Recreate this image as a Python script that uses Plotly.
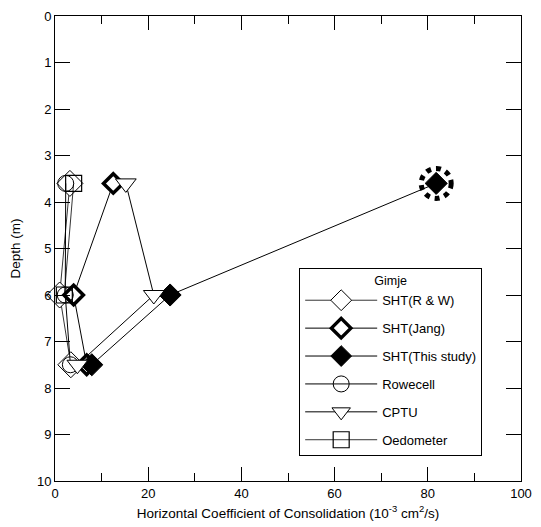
import plotly.graph_objects as go

depth = [3.6, 6.0, 7.5]
sht_rw = [3.2, 1.0, 3.4]
sht_jang = [12.5, 4.0, 6.8]
sht_this = [81.8, 24.7, 7.9]
rowecell = [2.3, 2.2, 3.3]
cptu = [15.2, 21.2, 4.8]
oedo_depth = [3.6, 6.0]
oedometer = [4.0, 2.0]

x_ticks = [0, 20, 40, 60, 80, 100]
y_ticks = list(range(0, 11))

FONT = "Liberation Sans, Arial, sans-serif"

fig = go.Figure()

def add(name, x, y, symbol, size, fill, lw, mlw, group):
    fig.add_trace(go.Scatter(
        x=x, y=y, name=name, mode="lines+markers",
        line=dict(color="black", width=lw),
        marker=dict(symbol=symbol, size=size, color=fill,
                    line=dict(color="black", width=mlw)),
        legendgroup=group, cliponaxis=False,
    ))

add("SHT(R & W)", sht_rw, depth, "diamond", 20, "white", 0.8, 1, "a")
add("SHT(Jang)", sht_jang, depth, "diamond", 15, "white", 1, 3.5, "b")
add("SHT(This study)", sht_this, depth, "diamond", 17, "black", 1, 1, "c")
add("Rowecell", rowecell, depth, "circle", 16, "rgba(255,255,255,0)", 1, 1, "d")
add("CPTU", cptu, depth, "triangle-down", 18, "white", 1, 1, "e")
add("Oedometer", oedometer, oedo_depth, "square", 16, "rgba(255,255,255,0)", 0.8, 1.2, "f")

# dotted highlight ring around the first "This study" point
fig.add_shape(type="circle", xref="x", yref="y",
              xsizemode="pixel", ysizemode="pixel",
              xanchor=sht_this[0], yanchor=depth[0],
              x0=-15, x1=15, y0=-15, y1=15,
              line=dict(color="black", width=5, dash="dot"))

fig.update_layout(
    width=533, height=519,
    margin=dict(l=47, r=20, t=8, b=46),
    paper_bgcolor="white", plot_bgcolor="white",
    font=dict(family=FONT, size=13, color="black"),
    showlegend=True,
    legend=dict(
        x=0.524, y=0.458, xanchor="left", yanchor="top",
        bordercolor="black", borderwidth=1, bgcolor="white",
        title=dict(text="Gimje", side="top center", font=dict(size=12.5)),
        font=dict(size=13), tracegroupgap=8, traceorder="grouped",
        itemwidth=72,
    ),
)

fig.update_xaxes(
    range=[0, 100], tickvals=x_ticks, showgrid=False, zeroline=False,
    showline=True, linecolor="black", linewidth=1, mirror="ticks",
    ticks="inside", ticklen=14, tickcolor="black", automargin=False,
    ticklabeloverflow="allow",
    minor=dict(dtick=10, ticks="inside", ticklen=8, tickcolor="black", showgrid=False),
    title=dict(text="Horizontal Coefficient of Consolidation (10<sup>-3</sup> cm<sup>2</sup>/s)",
               standoff=8, font=dict(size=13.5)),
)
fig.update_yaxes(
    range=[10, 0], tickvals=y_ticks, showgrid=False, zeroline=False,
    showline=True, linecolor="black", linewidth=1, mirror="ticks",
    ticks="inside", ticklen=15, tickcolor="black", automargin=False,
    ticklabeloverflow="allow",
    title=dict(text="Depth (m)", standoff=16, font=dict(size=13.5)),
)

fig.write_html("out.html")
